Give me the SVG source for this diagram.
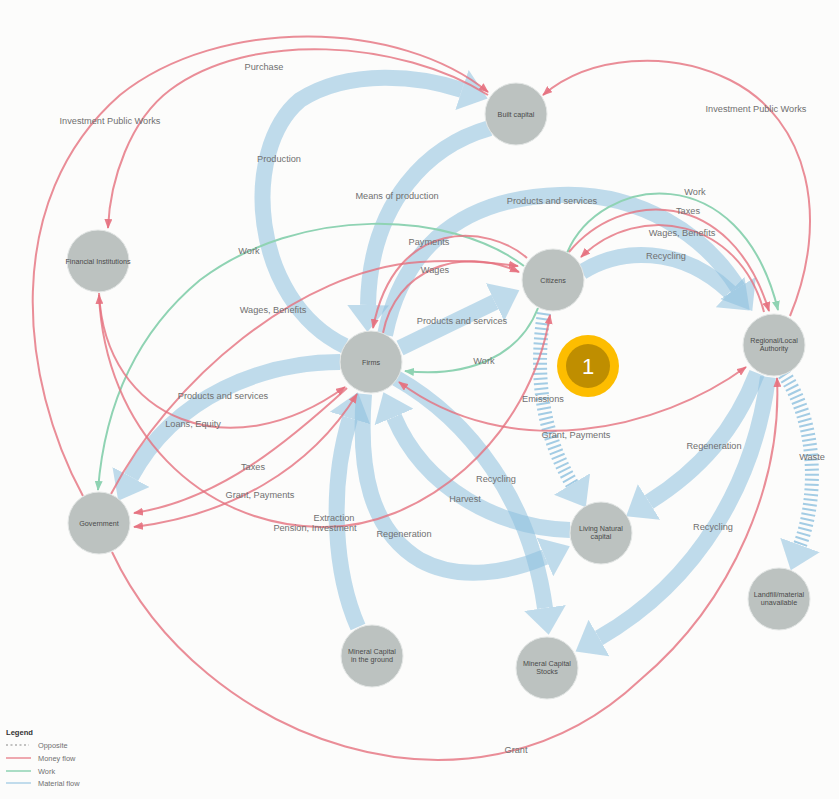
<svg xmlns="http://www.w3.org/2000/svg" width="839" height="799" viewBox="0 0 839 799">
<defs>
<style>
.band{fill:none;stroke:#8CBFDE;stroke-opacity:.55;stroke-width:16}
.hatch{fill:none;stroke:#8CBFDE;stroke-opacity:.8;stroke-width:14;stroke-dasharray:2 3}
.money{fill:none;stroke:#E5707E;stroke-opacity:.8;stroke-width:2}
.work{fill:none;stroke:#8FD3B3;stroke-width:2}
.node circle{fill:#BCC2C0;stroke:#E4E7E6;stroke-width:1}
.nl{font-family:"Liberation Sans",Arial,sans-serif;font-size:7.2px;fill:#4a4a4a;text-anchor:middle}
.el{font-family:"Liberation Sans",Arial,sans-serif;font-size:9.2px;fill:#707070;text-anchor:middle}
.lg{font-family:"Liberation Sans",Arial,sans-serif;font-size:7.4px;fill:#707070}
</style>
<marker id="ab" markerUnits="userSpaceOnUse" markerWidth="28" markerHeight="42" viewBox="0 0 28 42" refX="0" refY="21" orient="auto"><path d="M0,0 L27,21 L0,42 z" fill="#8CBFDE" fill-opacity=".55"/></marker>
<marker id="ar" markerUnits="userSpaceOnUse" markerWidth="10" markerHeight="8" viewBox="0 0 10 8" refX="9" refY="4" orient="auto-start-reverse"><path d="M0,0 L10,4 L0,8 z" fill="#E5707E" fill-opacity=".9"/></marker>
<marker id="ag" markerUnits="userSpaceOnUse" markerWidth="10" markerHeight="8" viewBox="0 0 10 8" refX="9" refY="4" orient="auto"><path d="M0,0 L10,4 L0,8 z" fill="#8FD3B3"/></marker>
</defs>
<rect width="839" height="799" fill="#FCFCFB"/>
<g id="connectors">
<g id="material-flows">
<path class="band" marker-end="url(#ab)" d="M345,346 C250,300 240,150 300,100 C350,68 420,76 462,90"/>
<path class="band" marker-end="url(#ab)" d="M490,128 C430,145 370,200 368,305"/>
<path class="band" marker-end="url(#ab)" d="M400,348 L495,302"/>
<path class="band" marker-end="url(#ab)" d="M385,335 C400,260 450,198 560,195 C640,192 705,235 738,288"/>
<path class="band" marker-end="url(#ab)" d="M582,272 C620,248 680,245 730,292"/>
<path class="band" marker-end="url(#ab)" d="M340,362 C265,362 175,395 131,477"/>
<path class="band" marker-end="url(#ab)" d="M358,627 C335,575 328,490 350,418"/>
<path class="band" marker-end="url(#ab)" d="M364,394 C358,470 370,530 420,560 C460,582 510,572 545,557"/>
<path class="band" marker-end="url(#ab)" d="M570,530 C500,528 425,490 394,417"/>
<path class="band" marker-end="url(#ab)" d="M396,378 C470,420 530,500 545,608"/>
<path class="band" marker-end="url(#ab)" d="M768,377 C755,480 700,580 599,638"/>
<path class="band" marker-end="url(#ab)" d="M757,373 C735,430 700,470 649,502"/>
<path class="hatch" marker-end="url(#ab)" d="M544,313 C535,370 540,430 572,484"/>
<path class="hatch" marker-end="url(#ab)" d="M784,374 C815,420 820,490 800,545"/>
</g>
<g id="work-flows">
<path class="work" marker-end="url(#ag)" d="M538,308 C520,355 470,378 405,371"/>
<path class="work" marker-end="url(#ag)" d="M524,266 C450,210 300,205 200,280 C140,330 105,400 98,490"/>
<path class="work" marker-end="url(#ag)" d="M567,253 C600,175 740,155 778,310"/>
</g>
<g id="money-flows">
<path class="money" marker-end="url(#ar)" d="M83,496 C20,380 0,200 120,95 C220,15 400,20 488,92"/>
<path class="money" marker-end="url(#ar)" d="M488,95 C400,40 250,30 170,90 C130,120 110,180 108,228"/>
<path class="money" marker-end="url(#ar)" d="M790,316 C830,220 810,120 730,80 C670,50 590,55 543,95"/>
<path class="money" marker-end="url(#ar)" d="M569,252 C620,190 730,185 769,311"/>
<path class="money" marker-end="url(#ar)" d="M764,312 C740,220 640,200 581,257"/>
<path class="money" marker-end="url(#ar)" d="M527,258 C490,225 395,215 373,328"/>
<path class="money" marker-end="url(#ar)" d="M383,333 C395,270 460,245 519,272"/>
<path class="money" marker-end="url(#ar)" d="M111,494 C170,380 300,270 420,262 C460,259 490,262 518,266"/>
<path class="money" marker-end="url(#ar)" d="M99,293 C105,420 230,470 345,387"/>
<path class="money" marker-start="url(#ar)" marker-end="url(#ar)" d="M99,295 C105,430 200,525 320,527 C420,530 530,440 550,315"/>
<path class="money" marker-end="url(#ar)" d="M347,388 C290,440 220,500 134,513"/>
<path class="money" marker-start="url(#ar)" marker-end="url(#ar)" d="M134,527 C230,515 310,470 357,394"/>
<path class="money" marker-start="url(#ar)" marker-end="url(#ar)" d="M746,367 C660,430 510,465 399,382"/>
<path class="money" marker-end="url(#ar)" d="M112,552 C200,740 470,840 640,680 C735,600 782,480 777,378"/>
</g>
<g id="connector-labels">
<text class="el" x="264" y="70">Purchase</text>
<text class="el" x="110" y="124">Investment Public Works</text>
<text class="el" x="279" y="162">Production</text>
<text class="el" x="397" y="199">Means of production</text>
<text class="el" x="552" y="204">Products and services</text>
<text class="el" x="695" y="195">Work</text>
<text class="el" x="688" y="214">Taxes</text>
<text class="el" x="682" y="236">Wages, Benefits</text>
<text class="el" x="666" y="259">Recycling</text>
<text class="el" x="756" y="112">Investment Public Works</text>
<text class="el" x="249" y="254">Work</text>
<text class="el" x="429" y="245">Payments</text>
<text class="el" x="435" y="273">Wages</text>
<text class="el" x="273" y="313">Wages, Benefits</text>
<text class="el" x="462" y="324">Products and services</text>
<text class="el" x="484" y="364">Work</text>
<text class="el" x="223" y="399">Products and services</text>
<text class="el" x="193" y="427">Loans, Equity</text>
<text class="el" x="543" y="402">Emissions</text>
<text class="el" x="576" y="438">Grant, Payments</text>
<text class="el" x="714" y="449">Regeneration</text>
<text class="el" x="812" y="460">Waste</text>
<text class="el" x="253" y="470">Taxes</text>
<text class="el" x="496" y="482">Recycling</text>
<text class="el" x="260" y="498">Grant, Payments</text>
<text class="el" x="465" y="502">Harvest</text>
<text class="el" x="334" y="520.5">Extraction</text>
<text class="el" x="315" y="531">Pension, Investment</text>
<text class="el" x="404" y="537">Regeneration</text>
<text class="el" x="713" y="530">Recycling</text>
<text class="el" x="516" y="753">Grant</text>
</g>
</g>
<g id="node-built-capital" class="node"><circle cx="516" cy="114" r="31"/><text class="nl" x="516" y="116.5">Built capital</text></g>
<g id="node-financial-institutions" class="node"><circle cx="98" cy="261" r="31"/><text class="nl" x="98" y="263.5">Financial Institutions</text></g>
<g id="node-citizens" class="node"><circle cx="553" cy="280" r="31"/><text class="nl" x="553" y="282.5">Citizens</text></g>
<g id="node-firms" class="node"><circle cx="371" cy="362" r="31"/><text class="nl" x="371" y="364.5">Firms</text></g>
<g id="node-regional-authority" class="node"><circle cx="774" cy="345" r="31"/><text class="nl" x="774" y="343">Regional/Local</text><text class="nl" x="774" y="351">Authority</text></g>
<g id="node-government" class="node"><circle cx="99" cy="523" r="31"/><text class="nl" x="99" y="525.5">Government</text></g>
<g id="node-living-natural-capital" class="node"><circle cx="601" cy="533" r="31"/><text class="nl" x="601" y="531">Living Natural</text><text class="nl" x="601" y="539">capital</text></g>
<g id="node-landfill" class="node"><circle cx="779" cy="599" r="31"/><text class="nl" x="779" y="597">Landfill/material</text><text class="nl" x="779" y="605">unavailable</text></g>
<g id="node-mineral-ground" class="node"><circle cx="372" cy="656" r="31"/><text class="nl" x="372" y="654">Mineral Capital</text><text class="nl" x="372" y="662">in the ground</text></g>
<g id="node-mineral-stocks" class="node"><circle cx="547" cy="668" r="31"/><text class="nl" x="547" y="666">Mineral Capital</text><text class="nl" x="547" y="674">Stocks</text></g>
<g id="badge">
<circle cx="588" cy="366" r="31" fill="#FDBD00"/>
<circle cx="588" cy="366" r="22" fill="#BF8E00"/>
<text x="588" y="374" font-family="'Liberation Sans',Arial,sans-serif" font-size="22" fill="#FFFFFF" text-anchor="middle">1</text>
</g>
<g id="legend">
<text x="6" y="735" font-family="'Liberation Sans',Arial,sans-serif" font-size="7.6" font-weight="bold" fill="#333">Legend</text>
<line x1="6" y1="745" x2="29" y2="745" stroke="#888" stroke-width="1.2" stroke-dasharray="2 2.5"/>
<text class="lg" x="38" y="747.5">Opposite</text>
<line x1="6" y1="758" x2="31" y2="758" stroke="#E5707E" stroke-opacity=".8" stroke-width="1.5"/>
<text class="lg" x="38" y="760.5">Money flow</text>
<line x1="6" y1="771" x2="31" y2="771" stroke="#8FD3B3" stroke-width="1.5"/>
<text class="lg" x="38" y="773.5">Work</text>
<line x1="6" y1="783" x2="31" y2="783" stroke="#8CBFDE" stroke-opacity=".7" stroke-width="1.5"/>
<text class="lg" x="38" y="785.5">Material flow</text>
</g>
</svg>
